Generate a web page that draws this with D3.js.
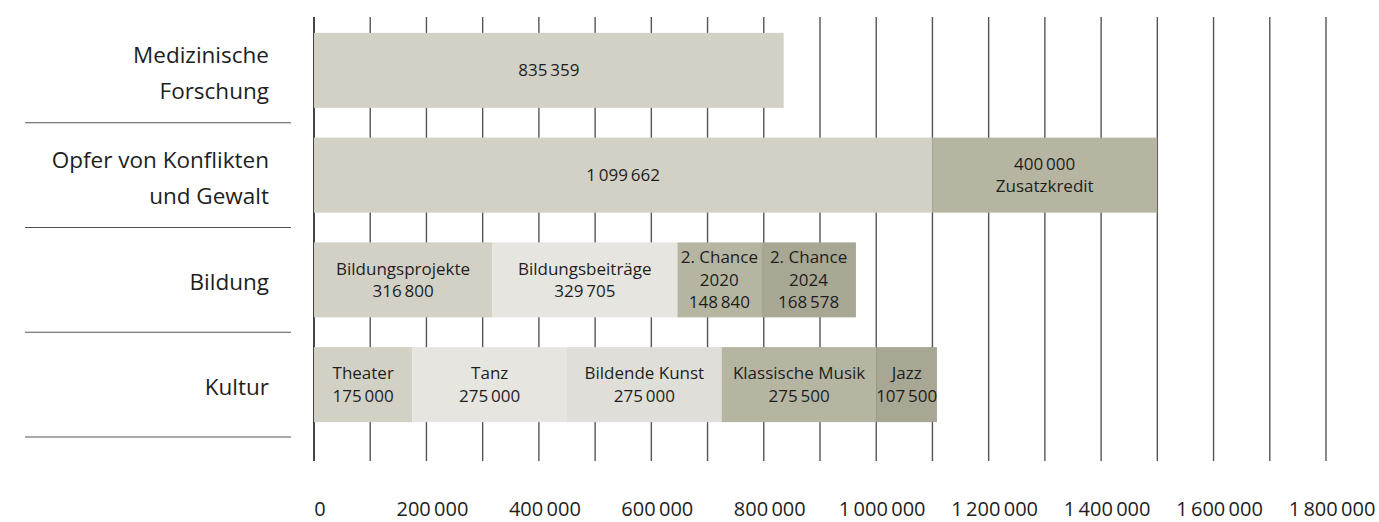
<!DOCTYPE html>
<html>
<head>
<meta charset="utf-8">
<script src="https://cdn.jsdelivr.net/npm/d3@7"></script>
<style>
  body { margin: 0; background: #fff; }
  text { font-family: "Open Sans", "Noto Sans", sans-serif; fill: #1e1e1e; }
</style>
</head>
<body>
<svg width="1379" height="522"></svg>
<script>
// categories (rows), each label split into lines
var categories = ["Medizinische Forschung", "Opfer von Konflikten und Gewalt", "Bildung", "Kultur"];
var categoryLines = [["Medizinische", "Forschung"], ["Opfer von Konflikten", "und Gewalt"], ["Bildung"], ["Kultur"]];

// stacked segments, in drawing order
var segCategory = ["Medizinische Forschung",
    "Opfer von Konflikten und Gewalt", "Opfer von Konflikten und Gewalt",
    "Bildung", "Bildung", "Bildung", "Bildung",
    "Kultur", "Kultur", "Kultur", "Kultur", "Kultur"];
var segName = ["Medizinische Forschung", "Opfer", "Zusatzkredit",
    "Bildungsprojekte", "Bildungsbeiträge", "2. Chance 2020", "2. Chance 2024",
    "Theater", "Tanz", "Bildende Kunst", "Klassische Musik", "Jazz"];
var segValue = [835359, 1099662, 400000, 316800, 329705, 148840, 168578,
    175000, 275000, 275000, 275500, 107500];
// "{v}" is replaced by the formatted value
var segLines = [["{v}"], ["{v}"], ["{v}", "Zusatzkredit"],
    ["Bildungsprojekte", "{v}"], ["Bildungsbeiträge", "{v}"],
    ["2. Chance", "2020", "{v}"], ["2. Chance", "2024", "{v}"],
    ["Theater", "{v}"], ["Tanz", "{v}"], ["Bildende Kunst", "{v}"],
    ["Klassische Musik", "{v}"], ["Jazz", "{v}"]];

var xMax = 1800000;
var gridStep = 100000;
var tickStep = 200000;

var svg = d3.select("svg");

var locale = d3.formatLocale({decimal: ",", thousands: "\u2009", grouping: [3], currency: ["", ""]});
var fmt = locale.format(",d");

var x = d3.scaleLinear().domain([0, xMax]).range([314, 1326]);
var y = d3.scaleBand().domain(categories).range([18, 437]).paddingInner(0.284).paddingOuter(0.142);

var color = d3.scaleOrdinal()
    .domain(segName)
    .range(["#d3d1c6", "#d3d1c6", "#b6b5a2",
            "#d3d1c6", "#e6e5e0", "#b6b5a2", "#a8a794",
            "#d3d1c6", "#e6e5e0", "#dfded8", "#b6b5a2", "#a8a794"]);

// running start of each segment within its row
var start = {};
var segs = segValue.map(function(v, i) {
    var c = segCategory[i];
    var s = start[c] || 0;
    start[c] = s + v;
    return {cat: c, name: segName[i], x0: s, x1: s + v, value: v, lines: segLines[i]};
});

// gridlines
var grid = svg.append("g");
grid.selectAll("line")
    .data(d3.range(0, xMax + 1, gridStep))
    .enter().append("line")
    .attr("x1", function(d) { return x(d); })
    .attr("x2", function(d) { return x(d); })
    .attr("y1", 17)
    .attr("y2", 461)
    .attr("stroke", function(d) { return d === 0 ? "#444" : "#555"; })
    .attr("stroke-width", function(d) { return d === 0 ? 2 : 1.4; });

// row separators on the left
var step = y.step();
svg.append("g").selectAll("line")
    .data(categories)
    .enter().append("line")
    .attr("x1", 25)
    .attr("x2", 291)
    .attr("y1", function(d) { return y(d) + y.bandwidth() + (step - y.bandwidth()) / 2; })
    .attr("y2", function(d) { return y(d) + y.bandwidth() + (step - y.bandwidth()) / 2; })
    .attr("stroke", "#555")
    .attr("stroke-width", 1.2);

// category labels
svg.append("g").selectAll("text")
    .data(categories)
    .enter().append("text")
    .attr("text-anchor", "end")
    .attr("font-size", 22.5)
    .each(function(d, i) {
        var lines = categoryLines[i];
        var cy = y(d) + y.bandwidth() / 2;
        var base = cy + 10.5 - (lines.length - 1) * 36 / 2;
        var t = d3.select(this);
        lines.forEach(function(l, j) {
            t.append("tspan").attr("x", 269).attr("y", base + j * 36).text(l);
        });
    });

// bars
var bars = svg.append("g");
bars.selectAll("rect")
    .data(segs)
    .enter().append("rect")
    .attr("x", function(d) { return x(d.x0); })
    .attr("y", function(d) { return y(d.cat); })
    .attr("width", function(d) { return x(d.x1) - x(d.x0); })
    .attr("height", y.bandwidth())
    .attr("fill", function(d) { return color(d.name); });

// bar labels
var lh = 22.4;
bars.selectAll("text")
    .data(segs)
    .enter().append("text")
    .attr("text-anchor", "middle")
    .attr("font-size", 17)
    .each(function(d) {
        var cx = (x(d.x0) + x(d.x1)) / 2;
        var cy = y(d.cat) + y.bandwidth() / 2;
        var base = cy + 6 - (d.lines.length - 1) * lh / 2;
        var t = d3.select(this);
        d.lines.forEach(function(l, j) {
            t.append("tspan").attr("x", cx).attr("y", base + j * lh)
                .text(l === "{v}" ? fmt(d.value) : l);
        });
    });

// axis labels
svg.append("g").selectAll("text")
    .data(d3.range(0, xMax + 1, tickStep))
    .enter().append("text")
    .attr("x", function(d) { return x(d) + 6; })
    .attr("y", 515.5)
    .attr("text-anchor", "middle")
    .attr("font-size", 20)
    .text(function(d) { return fmt(d); });
</script>
</body>
</html>
